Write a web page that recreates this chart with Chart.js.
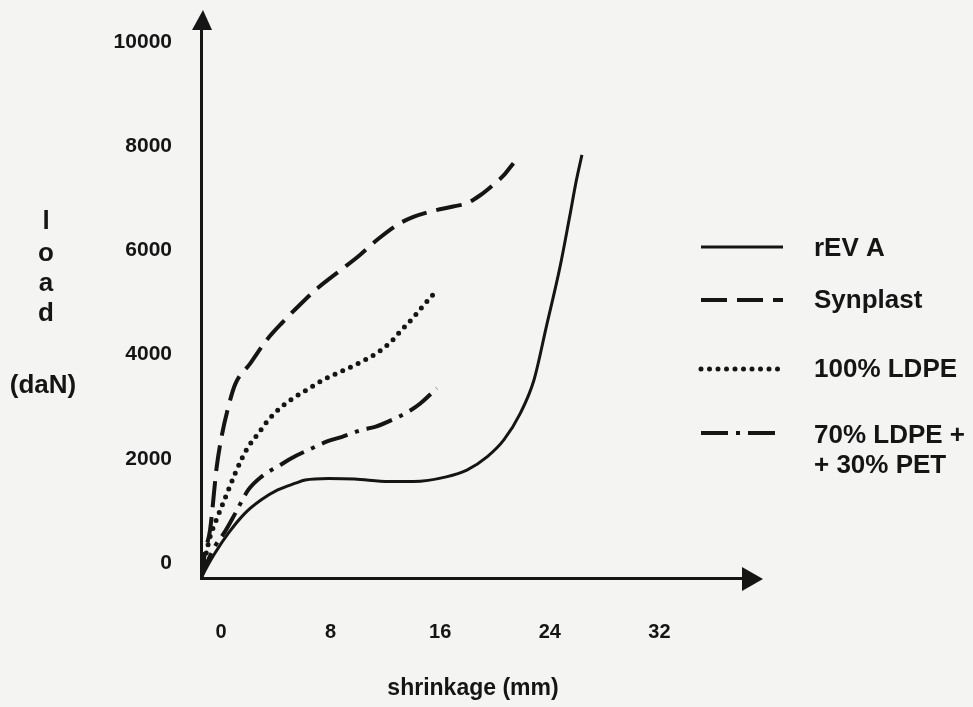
<!DOCTYPE html>
<html>
<head>
<meta charset="utf-8">
<script src="https://cdn.jsdelivr.net/npm/chart.js@4.4.1/dist/chart.umd.min.js"></script>
<style>
  html, body { margin: 0; padding: 0; background: #f4f4f3; }
  canvas { display: block; }
</style>
</head>
<body>
<canvas id="myChart" width="973" height="707"></canvas>
<script>
// values: shrinkage in mm, load in daN
const xTicks = [0, 8, 16, 24, 32];
const yTicks = [0, 2000, 4000, 6000, 8000, 10000];

const revaX = [0, 0.3, 1.0, 2.0, 3.2, 4.4, 5.6, 6.9, 7.6, 9.3, 11.2, 13.7, 15.5, 17.9, 19.4, 20.9, 22.1, 23.3, 24.3, 25.2, 26.2, 26.9, 27.4, 27.8];
const revaY = [0, 150, 470, 860, 1240, 1500, 1690, 1820, 1880, 1910, 1900, 1850, 1850, 1940, 2070, 2330, 2650, 3160, 3800, 4820, 5970, 6930, 7640, 8120];

const synplastX = [0, 0.3, 0.66, 1.15, 1.5, 2.0, 2.5, 3.6, 4.8, 6.0, 7.2, 8.5, 10.2, 11.6, 12.9, 14.4, 15.5, 16.7, 18.4, 19.4, 20.4, 21.3, 22.1, 22.8];
const synplastY = [0, 500, 920, 2140, 2710, 3290, 3720, 4120, 4570, 4920, 5240, 5560, 5910, 6200, 6500, 6790, 6930, 7030, 7130, 7190, 7350, 7540, 7730, 7960];

const ldpeX = [0, 0.66, 1.02, 1.51, 2.0, 2.5, 3.0, 3.45, 4.2, 4.9, 5.9, 6.9, 8.1, 8.9, 9.7, 11.4, 12.8, 13.9, 14.5, 15.5, 16.2, 17.1];
const ldpeY = [0, 790, 1050, 1370, 1690, 2010, 2300, 2520, 2780, 3030, 3290, 3480, 3670, 3800, 3900, 4110, 4310, 4540, 4720, 5000, 5220, 5490];

const blendX = [0, 0.5, 1.0, 1.75, 2.5, 3.45, 4.4, 5.8, 6.6, 8.1, 9.2, 10.3, 11.7, 12.7, 13.9, 15.3, 16.0, 17.2];
const blendY = [0, 330, 600, 890, 1240, 1690, 1940, 2170, 2300, 2490, 2620, 2710, 2840, 2900, 3030, 3220, 3350, 3640];

const ink = '#151515';
const fontName = "'Liberation Sans', Arial, sans-serif";

function pts(xs, ys) {
  return xs.map((x, i) => ({ x: x, y: ys[i] }));
}

function series(label, xs, ys, dash, width, cap) {
  return {
    label: label,
    data: pts(xs, ys),
    borderColor: ink,
    borderWidth: width,
    borderDash: dash,
    borderCapStyle: cap || 'butt',
    pointRadius: 0,
    fill: false,
    cubicInterpolationMode: 'monotone'
  };
}

// arrow heads on both axes
const axisArrows = {
  id: 'axisArrows',
  afterDraw(chart) {
    const ctx = chart.ctx;
    const a = chart.chartArea;
    ctx.save();
    ctx.fillStyle = ink;
    ctx.beginPath();
    ctx.moveTo(a.left - 9, a.top + 2);
    ctx.lineTo(a.left + 11, a.top + 2);
    ctx.lineTo(a.left + 2, a.top - 18);
    ctx.closePath();
    ctx.fill();
    ctx.beginPath();
    ctx.moveTo(a.right - 3, a.bottom - 11);
    ctx.lineTo(a.right - 3, a.bottom + 13);
    ctx.lineTo(a.right + 18, a.bottom + 1);
    ctx.closePath();
    ctx.fill();
    ctx.restore();
  }
};

// stacked "l o a d (daN)" axis name
const yName = {
  id: 'yName',
  afterDraw(chart) {
    const ctx = chart.ctx;
    ctx.save();
    ctx.fillStyle = ink;
    ctx.font = 'bold 26px ' + fontName;
    ctx.textAlign = 'center';
    ctx.textBaseline = 'middle';
    const letters = ['l', 'o', 'a', 'd'];
    const ys = [222, 254, 284, 314];
    letters.forEach((l, i) => ctx.fillText(l, 46, ys[i]));
    ctx.fillText('(daN)', 43, 386);
    ctx.restore();
  }
};

// legend on the right, line sample + text
const sideLegend = {
  id: 'sideLegend',
  afterDraw(chart) {
    const ctx = chart.ctx;
    const rows = [
      { line: 247, text: [249] },
      { line: 300, text: [301] },
      { line: 369, text: [370] },
      { line: 433, text: [436, 466] }
    ];
    ctx.save();
    chart.data.datasets.forEach((ds, i) => {
      const r = rows[i];
      ctx.strokeStyle = ds.borderColor;
      ctx.lineWidth = ds.borderWidth;
      ctx.lineCap = ds.borderCapStyle;
      ctx.setLineDash(ds.borderDash);
      ctx.beginPath();
      ctx.moveTo(701, r.line);
      ctx.lineTo(783, r.line);
      ctx.stroke();
      ctx.setLineDash([]);
      ctx.fillStyle = ink;
      ctx.font = 'bold 26px ' + fontName;
      ctx.textBaseline = 'middle';
      ctx.textAlign = 'left';
      const lines = Array.isArray(ds.legendText) ? ds.legendText : [ds.label];
      lines.forEach((t, j) => ctx.fillText(t, 814, r.text[j]));
    });
    ctx.restore();
  }
};

const datasets = [
  series('rEV A', revaX, revaY, [], 3),
  series('Synplast', synplastX, synplastY, [26, 10], 4),
  series('100% LDPE', ldpeX, ldpeY, [0, 8.5], 5, 'round'),
  series('70% LDPE + 30% PET', blendX, blendY, [27, 8, 4, 8], 4)
];
datasets[3].legendText = ['70% LDPE +', '+ 30% PET'];

const ctx = document.getElementById('myChart').getContext('2d');
new Chart(ctx, {
  type: 'line',
  data: { datasets: datasets },
  options: {
    responsive: false,
    animation: false,
    devicePixelRatio: 1,
    layout: { padding: { left: 0, right: 228, top: 28, bottom: 0 } },
    plugins: {
      legend: { display: false },
      tooltip: { enabled: false }
    },
    scales: {
      x: {
        type: 'linear',
        min: 0,
        max: 39.7,
        afterFit(scale) {
          scale.height = 129;
          scale.paddingLeft = 0;
          scale.paddingRight = 0;
        },
        afterBuildTicks(scale) { scale.ticks = xTicks.map(v => ({ value: v })); },
        grid: { display: false, drawTicks: false },
        border: { display: true, color: ink, width: 3 },
        ticks: {
          color: ink,
          font: { family: fontName, size: 20, weight: 'bold' },
          padding: 42,
          labelOffset: 20,
          maxRotation: 0,
          callback: v => String(v)
        },
        title: {
          display: true,
          text: 'shrinkage (mm)',
          color: ink,
          font: { family: fontName, size: 23, weight: 'bold' },
          padding: { top: 0, bottom: 5 }
        }
      },
      y: {
        type: 'linear',
        min: 0,
        max: 10555,
        afterFit(scale) {
          scale.width = 201;
          scale.paddingTop = 0;
          scale.paddingBottom = 0;
        },
        afterBuildTicks(scale) { scale.ticks = yTicks.map(v => ({ value: v })); },
        grid: { display: false, drawTicks: false },
        border: { display: true, color: ink, width: 3 },
        ticks: {
          color: ink,
          font: { family: fontName, size: 21, weight: 'bold' },
          padding: 29,
          labelOffset: -15,
          callback: v => String(v)
        }
      }
    }
  },
  plugins: [axisArrows, yName, sideLegend]
});
</script>
</body>
</html>
